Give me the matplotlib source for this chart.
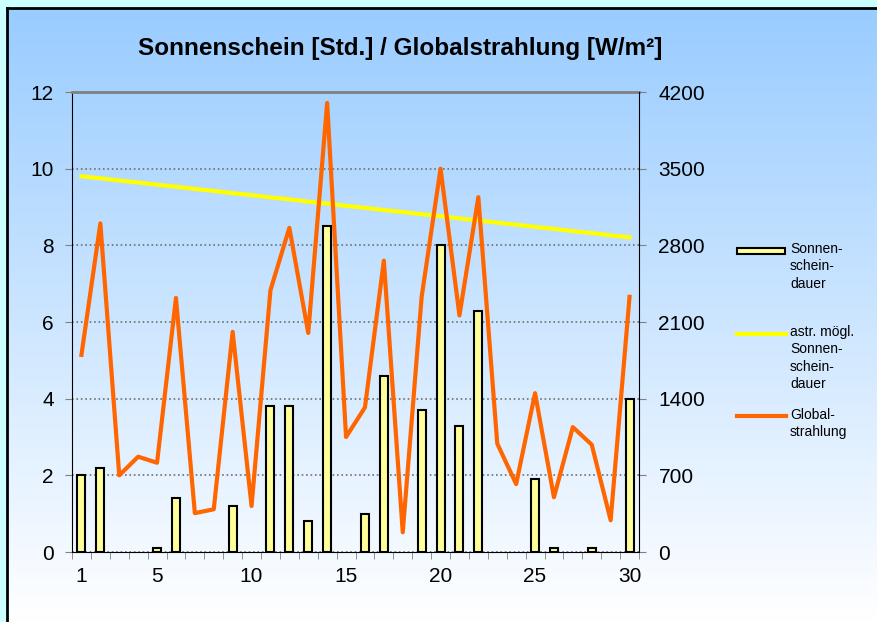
import numpy as np
import matplotlib.pyplot as plt
from matplotlib.colors import LinearSegmentedColormap
from matplotlib.lines import Line2D
from matplotlib.patches import Rectangle

plt.rcParams['font.family'] = ['Liberation Sans', 'DejaVu Sans']

days = list(range(1, 31))
sunshine = [2.0, 2.2, 0, 0, 0.1, 1.4, 0, 0, 1.2, 0,
            3.8, 3.8, 0.8, 8.5, 0, 1.0, 4.6, 0, 3.7, 8.0,
            3.3, 6.3, 0, 0, 1.9, 0.1, 0, 0.1, 0, 4.0]
astro = [9.80, 9.75, 9.69, 9.64, 9.58, 9.53, 9.47, 9.42, 9.36, 9.31,
         9.25, 9.20, 9.14, 9.09, 9.03, 8.98, 8.92, 8.87, 8.81, 8.76,
         8.70, 8.65, 8.59, 8.54, 8.48, 8.43, 8.37, 8.32, 8.26, 8.21]
radiation = [1800, 3000, 700, 870, 815, 2320, 355, 390, 2010, 420,
             2390, 2960, 2000, 4100, 1050, 1320, 2660, 180, 2330, 3500,
             2160, 3240, 990, 620, 1450, 500, 1140, 980, 290, 2330]
xticks_shown = [1, 5, 10, 15, 20, 25, 30]

W, H = 877, 622
fig = plt.figure(figsize=(W / 100, H / 100), dpi=100, facecolor='#CCFFFF')

# gradient background with black frame on left/top
bg = fig.add_axes([7 / W, 0, 1 - 7 / W, 1 - 8 / H])
grad = np.linspace(0, 1, 256).reshape(-1, 1)
cmap = LinearSegmentedColormap.from_list('bg', ['#99CCFF', '#FFFFFF'])
bg.imshow(grad, aspect='auto', cmap=cmap, extent=[0, 1, 0, 1], origin='upper')
bg.set_xticks([])
bg.set_yticks([])
for s in ['right', 'bottom']:
    bg.spines[s].set_visible(False)
for s in ['left', 'top']:
    bg.spines[s].set_color('black')
    bg.spines[s].set_linewidth(2)

ax = fig.add_axes([72 / W, 70 / H, 567 / W, 460 / H])
ax.set_facecolor('none')
# days without sunshine get no bar at all
bar_days = [d for d, v in zip(days, sunshine) if v > 0]
bar_vals = [v for v in sunshine if v > 0]
ax.bar(bar_days, bar_vals, width=0.42, color='#FFFF99', edgecolor='black', linewidth=1.5, zorder=3)
ax.plot(days, astro, color='#FFFF00', linewidth=3, zorder=4)
ax.set_xlim(0.5, 30.5)
ax.set_ylim(0, 12)
ax.set_yticks(range(0, 13, 2))
ax.set_xticks(xticks_shown)
ax.set_xticks(np.arange(0.5, 31, 1), minor=True)
ax.tick_params(axis='x', which='major', length=0, pad=11, labelsize=15)
ax.tick_params(axis='x', which='minor', length=5, color='#808080', direction='out')
ax.tick_params(axis='y', length=5, color='#808080', pad=8, labelsize=15)
ax.grid(axis='y', color='#707070', linestyle=':', linewidth=1.2, zorder=1)
ax.spines['top'].set_color('#808080')
ax.spines['top'].set_linewidth(2)
ax.spines['right'].set_visible(False)

ax2 = ax.twinx()
ax2.plot(days, radiation, color='#FF6600', linewidth=3, zorder=5)
ax2.set_ylim(0, 4200)
ax2.set_yticks(range(0, 4201, 700))
ax2.tick_params(axis='y', length=5, color='#808080', pad=9, labelsize=15)
ax2.spines['top'].set_visible(False)
ax2.spines['left'].set_visible(False)
ax2.spines['bottom'].set_visible(False)

fig.text(400 / W, 1 - 48 / H, 'Sonnenschein [Std.] / Globalstrahlung [W/m²]',
         ha='center', va='center', fontsize=17.5, fontweight='bold')

# legend
fig.add_artist(Rectangle((737 / W, 1 - 254 / H), 48 / W, 6 / H,
                         facecolor='#FFFF99', edgecolor='black', linewidth=1.5,
                         transform=fig.transFigure))
fig.add_artist(Line2D([737 / W, 786 / W], [1 - 334 / H] * 2, color='#FFFF00', linewidth=3,
                      transform=fig.transFigure))
fig.add_artist(Line2D([737 / W, 786 / W], [1 - 416 / H] * 2, color='#FF6600', linewidth=3,
                      transform=fig.transFigure))
legend_texts = [('Sonnen-\nschein-\ndauer', 242),
                ('astr. mögl.\nSonnen-\nschein-\ndauer', 325),
                ('Global-\nstrahlung', 408)]
for txt, ytop in legend_texts:
    fig.text(790 / W, 1 - ytop / H, txt, ha='left', va='top', fontsize=10, linespacing=1.3)

fig.savefig('out.png', dpi=100, facecolor=fig.get_facecolor())
